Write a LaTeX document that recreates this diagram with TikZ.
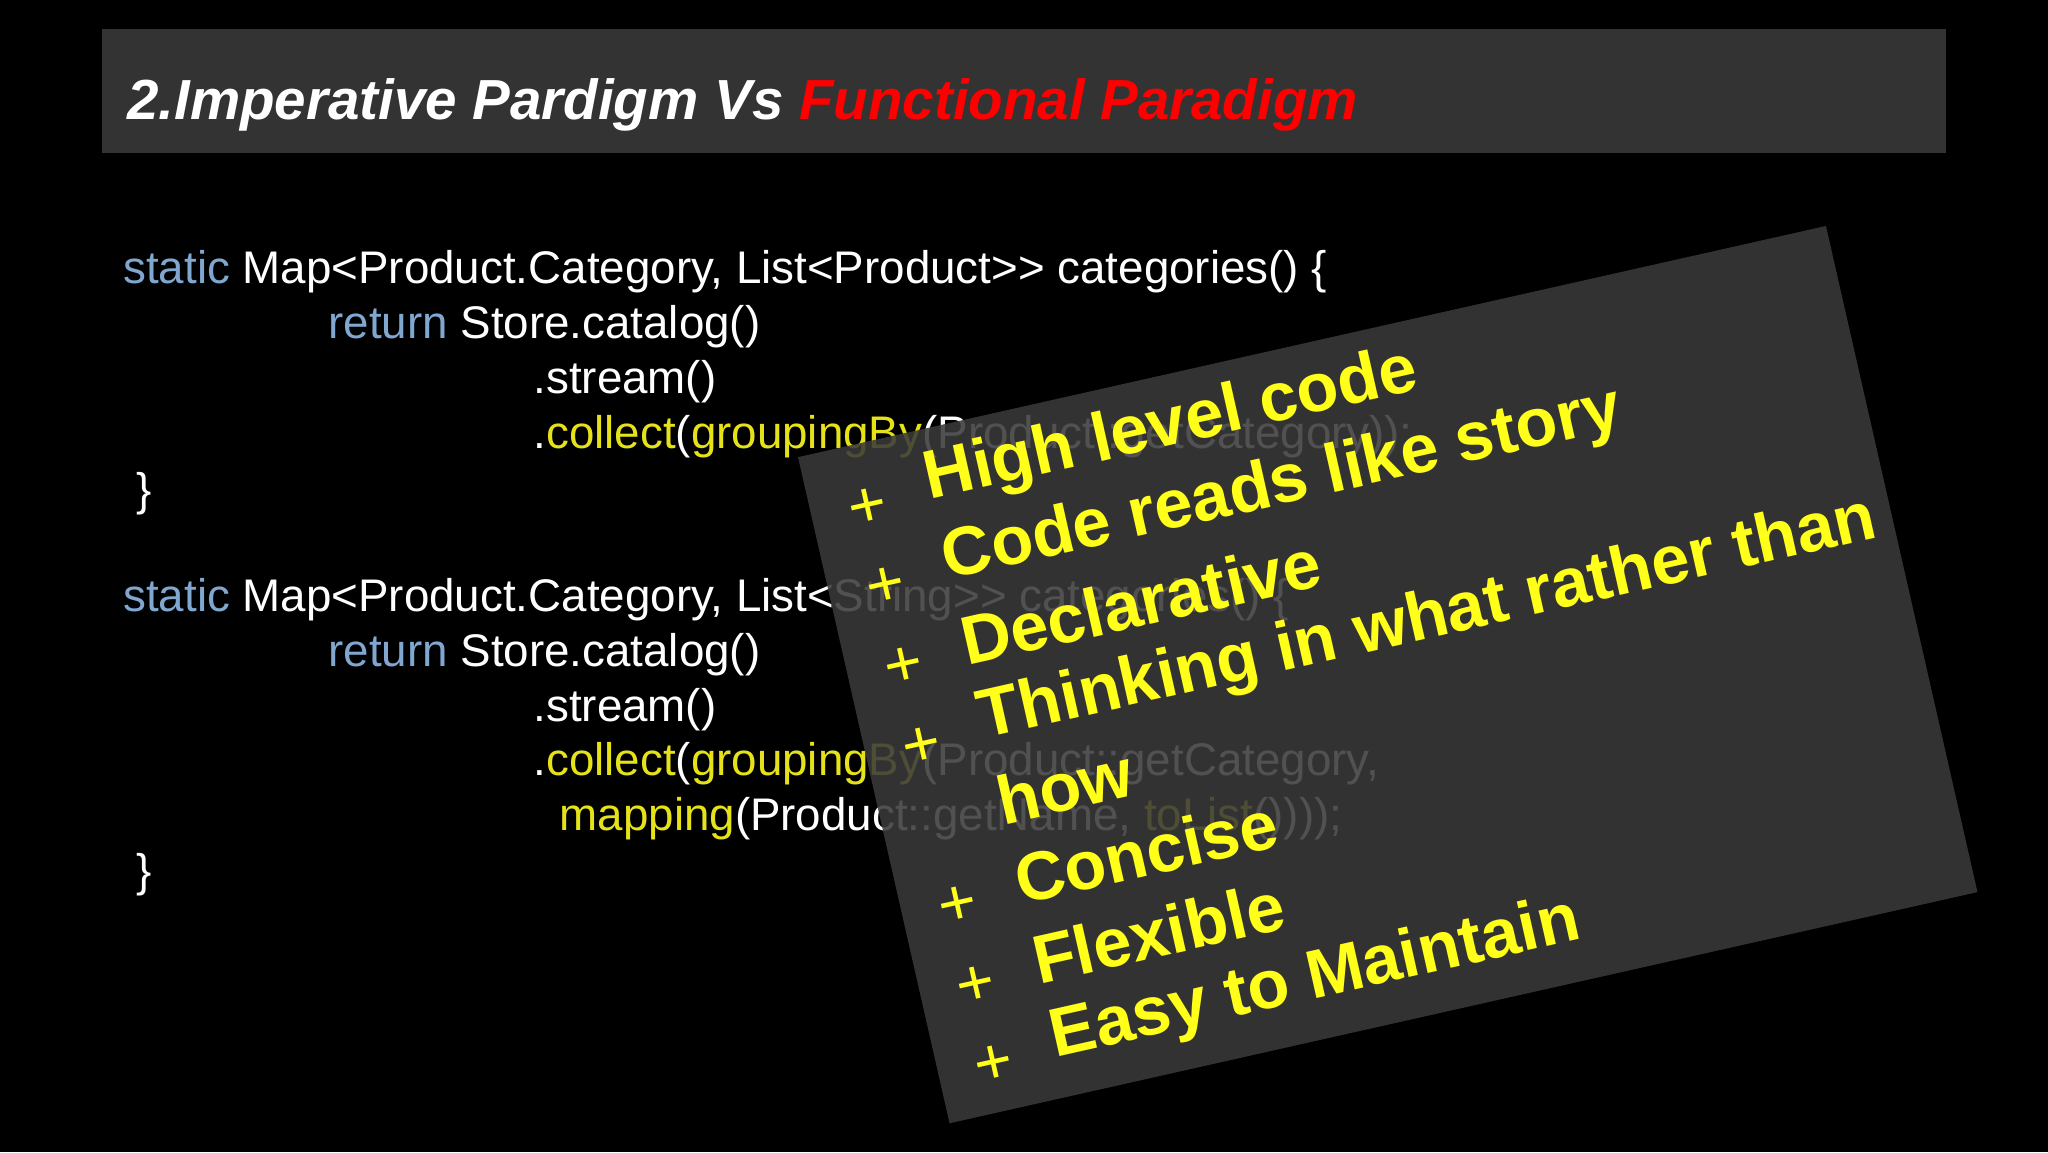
\documentclass[tikz,border=0pt]{standalone}
\usepackage{fontspec}
\setmainfont{Liberation Sans}
\definecolor{bar}{HTML}{333333}
\definecolor{kw}{HTML}{7FA7D0}
\definecolor{yl}{HTML}{E6E21A}
\definecolor{ov}{HTML}{3A3A3A}
\definecolor{bright}{HTML}{FFFF1A}
\begin{document}
\begin{tikzpicture}[x=0.4pt,y=-0.4pt,
  code/.style={anchor=west,inner sep=0,text=white,font=\fontsize{14}{16}\selectfont},
  pt/.style={anchor=west,inner sep=0,text=bright,transform shape,font=\bfseries\fontsize{21}{24}\selectfont},
  plus/.style={anchor=west,inner sep=0,text=bright,transform shape,font=\fontsize{20}{22}\selectfont}]
\fill[black] (0,0) rectangle (1568,882);
\useasboundingbox (0,0) rectangle (1568,882);
\fill[bar] (78,22) rectangle (1490,117);
\node[anchor=west,inner sep=0,text=white,font=\bfseries\itshape\fontsize{17.3}{20}\selectfont] (title) at (97,80) {2.Imperative Pardigm Vs \textcolor{red}{Functional Paradigm}};
\begin{scope}[yshift=-3*0.4pt]
\node[code] (c1) at (94,205) {\textcolor{kw}{static} Map<Product.Category, List<Product>{}> categories() \{};
\node[code] (c2) at (251,247) {\textcolor{kw}{return} Store.catalog()};
\node[code] (c3) at (408,289) {.stream()};
\node[code] (c4) at (408,331) {.\textcolor{yl}{collect}(\textcolor{yl}{groupingBy}(Product::getCategory));};
\node[code] (c5) at (104,375) {\}};
\node[code] (d1) at (94,456) {\textcolor{kw}{static} Map<Product.Category, List<String>{}> categories() \{};
\node[code] (d2) at (251,498) {\textcolor{kw}{return} Store.catalog()};
\node[code] (d3) at (408,540) {.stream()};
\node[code] (d4) at (408,582) {.\textcolor{yl}{collect}(\textcolor{yl}{groupingBy}(Product::getCategory,};
\node[code] (d5) at (428,624) {\textcolor{yl}{mapping}(Product::getName, \textcolor{yl}{toList}())));};
\node[code] (d6) at (104,667) {\}};
\end{scope}
\fill[ov,opacity=0.88] (611,350) -- (1398,173) -- (1514,683) -- (727,860) -- cycle;
\begin{scope}[shift={(650,392)},rotate=12.7]
\foreach \i/\t in {0/High level code,1/Code reads like story,2/Declarative,3/Thinking in what rather than,5/Concise,6/Flexible,7/Easy to Maintain}{
  \node[plus] (p\i) at (0,\i*62.5) {+};
  \node[pt] (t\i) at (62,\i*62.5-9) {\t};
}
\node[pt] (t4) at (62,4*62.5-9) {how};
\end{scope}
\end{tikzpicture}
\end{document}
